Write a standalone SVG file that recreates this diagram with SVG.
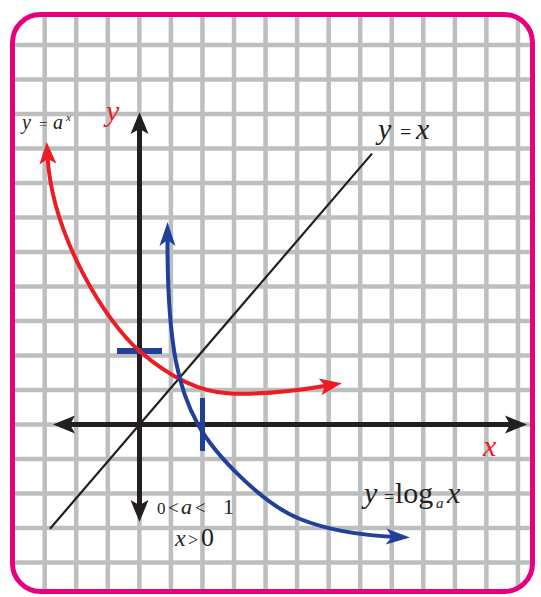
<svg xmlns="http://www.w3.org/2000/svg" width="541" height="597" viewBox="0 0 541 597">
<style>
.grid line{stroke:#bcbec0;stroke-width:4.5}
.t{font-family:"Liberation Serif","Times New Roman",serif;fill:#231f20}
.i{font-style:italic}
.red{fill:#ed1c24}
</style>
<defs>
<clipPath id="clip"><rect x="12.5" y="14.5" width="520" height="577" rx="28"/></clipPath>
<marker id="ahK" markerUnits="userSpaceOnUse" markerWidth="30" markerHeight="24" viewBox="-12 -12 30 24" refX="0" refY="0" orient="auto-start-reverse"><path d="M14,0 L-8,-9 L-3,0 L-8,9 Z" fill="#231f20"/></marker>
<marker id="ahR" markerUnits="userSpaceOnUse" markerWidth="30" markerHeight="24" viewBox="-12 -12 30 24" refX="0" refY="0" orient="auto-start-reverse"><path d="M14,0 L-8,-8.5 L-3,0 L-8,8.5 Z" fill="#ed1c24"/></marker>
<marker id="ahB" markerUnits="userSpaceOnUse" markerWidth="30" markerHeight="24" viewBox="-12 -12 30 24" refX="0" refY="0" orient="auto-start-reverse"><path d="M14,0 L-10,-8 L-4,0 L-10,8 Z" fill="#21409a"/></marker>
</defs>
<rect x="0" y="0" width="541" height="597" fill="#ffffff"/>
<g id="grid" class="grid" clip-path="url(#clip)">
<line x1="44.7" y1="0" x2="44.7" y2="597"/>
<line x1="76.25" y1="0" x2="76.25" y2="597"/>
<line x1="107.8" y1="0" x2="107.8" y2="597"/>
<line x1="139.35" y1="0" x2="139.35" y2="597"/>
<line x1="170.9" y1="0" x2="170.9" y2="597"/>
<line x1="202.45" y1="0" x2="202.45" y2="597"/>
<line x1="234" y1="0" x2="234" y2="597"/>
<line x1="265.55" y1="0" x2="265.55" y2="597"/>
<line x1="297.1" y1="0" x2="297.1" y2="597"/>
<line x1="328.65" y1="0" x2="328.65" y2="597"/>
<line x1="360.2" y1="0" x2="360.2" y2="597"/>
<line x1="391.75" y1="0" x2="391.75" y2="597"/>
<line x1="423.3" y1="0" x2="423.3" y2="597"/>
<line x1="454.85" y1="0" x2="454.85" y2="597"/>
<line x1="486.4" y1="0" x2="486.4" y2="597"/>
<line x1="517.95" y1="0" x2="517.95" y2="597"/>
<line x1="0" y1="45" x2="541" y2="45"/>
<line x1="0" y1="79.5" x2="541" y2="79.5"/>
<line x1="0" y1="114" x2="541" y2="114"/>
<line x1="0" y1="148.5" x2="541" y2="148.5"/>
<line x1="0" y1="183" x2="541" y2="183"/>
<line x1="0" y1="217.5" x2="541" y2="217.5"/>
<line x1="0" y1="252" x2="541" y2="252"/>
<line x1="0" y1="286.5" x2="541" y2="286.5"/>
<line x1="0" y1="321" x2="541" y2="321"/>
<line x1="0" y1="355.5" x2="541" y2="355.5"/>
<line x1="0" y1="390" x2="541" y2="390"/>
<line x1="0" y1="424.5" x2="541" y2="424.5"/>
<line x1="0" y1="459" x2="541" y2="459"/>
<line x1="0" y1="493.5" x2="541" y2="493.5"/>
<line x1="0" y1="528" x2="541" y2="528"/>
<line x1="0" y1="562.5" x2="541" y2="562.5"/>
</g>
<rect id="frame" x="12.5" y="14.5" width="520" height="577" rx="28" fill="none" stroke="#e6007e" stroke-width="5"/>
<g id="connectors">
<line id="line-yx" x1="50" y1="528.8" x2="372" y2="153.6" stroke="#231f20" stroke-width="2.2"/>
<line id="axis-y" x1="139.5" y1="126" x2="139.5" y2="508" stroke="#231f20" stroke-width="5" marker-start="url(#ahK)" marker-end="url(#ahK)"/>
<line id="axis-x" x1="67" y1="424.5" x2="513" y2="424.5" stroke="#231f20" stroke-width="5" marker-start="url(#ahK)" marker-end="url(#ahK)"/>
<line id="tick-y" x1="117" y1="351" x2="162" y2="351" stroke="#21409a" stroke-width="6"/>
<line id="tick-x" x1="202.5" y1="398" x2="202.5" y2="451" stroke="#21409a" stroke-width="5"/>
<path id="curve-exp" d="M47.5,156 C52,235 105,321.5 140,351.5 C162,370.5 195,392 230,393.5 C260,394.8 295,391 328,385.5" fill="none" stroke="#ed1c24" stroke-width="4" marker-start="url(#ahR)" marker-end="url(#ahR)"/>
<path id="curve-log" d="M167.5,236 C167,350 180,392 198,424.5 C214.9,455.1 262.9,504.2 300,519 C327.8,530.1 362,535.5 396,537" fill="none" stroke="#21409a" stroke-width="4" marker-start="url(#ahB)" marker-end="url(#ahB)"/>
</g>
<g id="labels">
<text id="lbl-exp" class="t" x="22" y="129" font-size="20"><tspan class="i">y</tspan><tspan x="39" font-size="15">=</tspan><tspan x="53" class="i">a</tspan><tspan x="66" dy="-8" font-size="11" class="i">x</tspan></text>
<text id="lbl-y" class="t i red" x="106" y="121" font-size="30">y</text>
<text id="lbl-yx" class="t" x="378" y="139" font-size="30"><tspan class="i">y</tspan><tspan x="400" font-size="20">=</tspan><tspan x="416" class="i">x</tspan></text>
<text id="lbl-x" class="t i red" x="483" y="456" font-size="30">x</text>
<text id="lbl-log" class="t" x="364" y="503" font-size="30"><tspan class="i">y</tspan><tspan x="384" font-size="18">=</tspan><tspan x="395">log</tspan><tspan x="436" dy="5" font-size="15" class="i">a</tspan><tspan x="447" dy="-5" class="i">x</tspan></text>
<text id="lbl-cond1" class="t" x="157" y="513.5" font-size="17">0<tspan x="168" font-size="19">&lt;</tspan><tspan x="181" font-size="22" class="i">a</tspan><tspan x="195" font-size="19">&lt;</tspan><tspan x="223" font-size="22">1</tspan></text>
<text id="lbl-cond2" class="t" x="175" y="546" font-size="24"><tspan class="i">x</tspan><tspan x="188" font-size="18">&gt;</tspan><tspan x="201" font-size="26">0</tspan></text>
</g>
</svg>
